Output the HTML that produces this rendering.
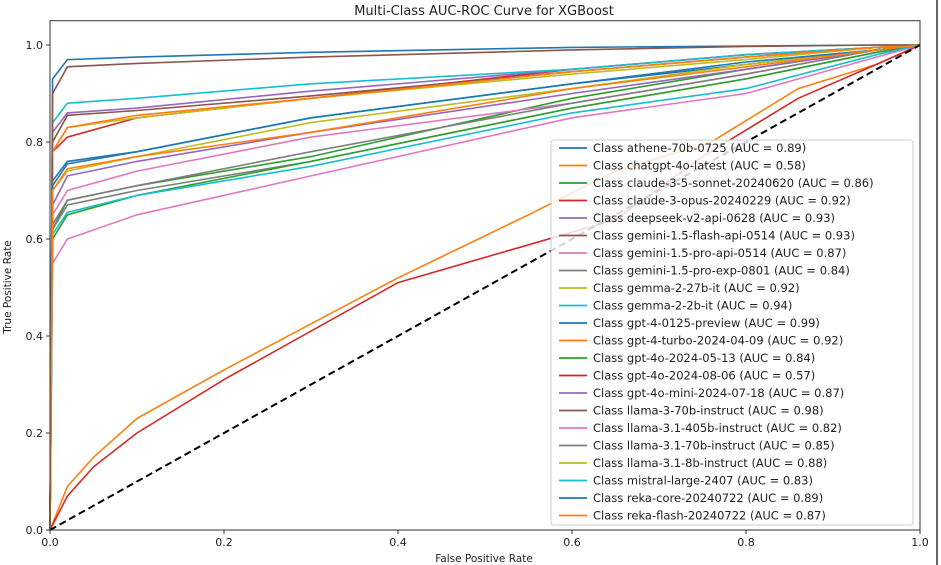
<!DOCTYPE html>
<html><head><meta charset="utf-8"><style>
html,body{margin:0;padding:0;background:#fff;}
svg{display:block;font-family:"DejaVu Sans","Liberation Sans",sans-serif;}
</style></head><body>
<svg id="chart" width="941" height="565" viewBox="0 0 941 565" xmlns="http://www.w3.org/2000/svg">
<rect x="0" y="0" width="941" height="565" fill="#fff"/>
<text x="484" y="15" text-anchor="middle" font-size="13" fill="#222">Multi-Class AUC-ROC Curve for XGBoost</text>
<g id="grid"></g>
<g id="curves"></g>
<rect x="50" y="20.7" width="870" height="509.3" fill="none" stroke="#333" stroke-width="1"/>
<line x1="937" y1="0" x2="937" y2="565" stroke="#333" stroke-width="1.5"/>
<g id="ticks"></g>
<text x="484" y="562" text-anchor="middle" font-size="10.5" fill="#222">False Positive Rate</text>
<text transform="translate(11,287) rotate(-90)" text-anchor="middle" font-size="10.5" fill="#222">True Positive Rate</text>
<g id="legend"></g>
</svg>
<script>
const NS="http://www.w3.org/2000/svg";
const classNames=["athene-70b-0725","chatgpt-4o-latest","claude-3-5-sonnet-20240620","claude-3-opus-20240229","deepseek-v2-api-0628","gemini-1.5-flash-api-0514","gemini-1.5-pro-api-0514","gemini-1.5-pro-exp-0801","gemma-2-27b-it","gemma-2-2b-it","gpt-4-0125-preview","gpt-4-turbo-2024-04-09","gpt-4o-2024-05-13","gpt-4o-2024-08-06","gpt-4o-mini-2024-07-18","llama-3-70b-instruct","llama-3.1-405b-instruct","llama-3.1-70b-instruct","llama-3.1-8b-instruct","mistral-large-2407","reka-core-20240722","reka-flash-20240722"];
const aucValues=[0.89,0.58,0.86,0.92,0.93,0.93,0.87,0.84,0.92,0.94,0.99,0.92,0.84,0.57,0.87,0.98,0.82,0.85,0.88,0.83,0.89,0.87];
const fprGrid=[0,0.003,0.02,0.1,0.3,0.6,0.8,0.95,1];
const tprAthene=[0,0.72,0.76,0.78,0.85,0.92,0.96,0.99,1];
const tprSonnet=[0,0.62,0.68,0.71,0.77,0.89,0.95,0.99,1];
const tprOpus=[0,0.78,0.81,0.85,0.89,0.95,0.98,0.995,1];
const tprDeepseek=[0,0.82,0.86,0.87,0.905,0.95,0.98,0.995,1];
const tprGemFlash=[0,0.80,0.855,0.865,0.895,0.945,0.975,0.995,1];
const tprGemProApi=[0,0.65,0.70,0.74,0.81,0.88,0.94,0.99,1];
const tprGemProExp=[0,0.62,0.67,0.70,0.76,0.87,0.93,0.985,1];
const tprGemma27=[0,0.78,0.83,0.85,0.89,0.94,0.97,0.995,1];
const tprGemma2=[0,0.84,0.88,0.89,0.92,0.95,0.98,0.995,1];
const tprGpt4=[0,0.93,0.97,0.975,0.985,0.995,0.998,1,1];
const tprGpt4Turbo=[0,0.78,0.83,0.855,0.89,0.945,0.975,0.995,1];
const tprGpt4o0513=[0,0.60,0.65,0.69,0.76,0.87,0.93,0.985,1];
const tprMini=[0,0.67,0.73,0.76,0.82,0.90,0.95,0.99,1];
const tprLlama3=[0,0.90,0.955,0.962,0.975,0.99,0.997,1,1];
const tpr405=[0,0.55,0.60,0.65,0.73,0.85,0.90,0.975,1];
const tpr70=[0,0.63,0.68,0.71,0.78,0.88,0.94,0.99,1];
const tpr8=[0,0.70,0.74,0.77,0.84,0.91,0.96,0.99,1];
const tprMistral=[0,0.61,0.655,0.69,0.75,0.86,0.91,0.98,1];
const tprRekaCore=[0,0.71,0.755,0.78,0.85,0.92,0.965,0.99,1];
const tprRekaFlash=[0,0.70,0.745,0.77,0.82,0.91,0.955,0.99,1];
const fprChatgpt=[0,0.02,0.05,0.1,0.2,0.4,0.55,0.65,0.76,0.86,0.95,1];
const tprChatgpt=[0,0.09,0.15,0.23,0.33,0.52,0.65,0.74,0.80,0.91,0.96,1];
const fprGpt4o0806=[0,0.02,0.05,0.1,0.2,0.4,0.65,0.75,0.86,0.95,1];
const tprGpt4o0806=[0,0.07,0.13,0.2,0.31,0.51,0.64,0.77,0.89,0.96,1];
const xTicks=[0,0.2,0.4,0.6,0.8,1.0];
const yTicks=[0,0.2,0.4,0.6,0.8,1.0];
const colors=["#1f77b4","#ff7f0e","#2ca02c","#d62728","#9467bd","#8c564b","#e377c2","#7f7f7f","#bcbd22","#17becf"];
const X=v=>50+v*870, Y=v=>530-v*485;
const series=[
 [fprGrid,tprAthene],[fprChatgpt,tprChatgpt],[fprGrid,tprSonnet],[fprGrid,tprOpus],[fprGrid,tprDeepseek],
 [fprGrid,tprGemFlash],[fprGrid,tprGemProApi],[fprGrid,tprGemProExp],[fprGrid,tprGemma27],[fprGrid,tprGemma2],
 [fprGrid,tprGpt4],[fprGrid,tprGpt4Turbo],[fprGrid,tprGpt4o0513],[fprGpt4o0806,tprGpt4o0806],[fprGrid,tprMini],
 [fprGrid,tprLlama3],[fprGrid,tpr405],[fprGrid,tpr70],[fprGrid,tpr8],[fprGrid,tprMistral],[fprGrid,tprRekaCore],[fprGrid,tprRekaFlash]];
const cg=document.getElementById('curves');
series.forEach((s,i)=>{
 const p=document.createElementNS(NS,'polyline');
 p.setAttribute('points',s[0].map((f,j)=>X(f).toFixed(1)+','+Y(s[1][j]).toFixed(1)).join(' '));
 p.setAttribute('fill','none');p.setAttribute('stroke',colors[i%10]);p.setAttribute('stroke-width','1.6');
 
 
 cg.appendChild(p);
});
const d=document.createElementNS(NS,'line');
d.setAttribute('x1',X(0));d.setAttribute('y1',Y(0));d.setAttribute('x2',X(1));d.setAttribute('y2',Y(1));
d.setAttribute('stroke','#000');d.setAttribute('stroke-width','2');d.setAttribute('stroke-dasharray','7,4');


cg.appendChild(d);
const tg=document.getElementById('ticks');
xTicks.forEach(t=>{
 const l=document.createElementNS(NS,'line');l.setAttribute('x1',X(t));l.setAttribute('x2',X(t));l.setAttribute('y1',530);l.setAttribute('y2',534);l.setAttribute('stroke','#333');
 
 
 tg.appendChild(l);
 const tx=document.createElementNS(NS,'text');tx.setAttribute('x',X(t));tx.setAttribute('y',546);tx.setAttribute('text-anchor','middle');tx.setAttribute('font-size','11');tx.setAttribute('fill','#222');tx.textContent=t.toFixed(1);
 
 
 tg.appendChild(tx);
});
yTicks.forEach(t=>{
 const l=document.createElementNS(NS,'line');l.setAttribute('x1',46);l.setAttribute('x2',50);l.setAttribute('y1',Y(t));l.setAttribute('y2',Y(t));l.setAttribute('stroke','#333');
 
 
 tg.appendChild(l);
 const tx=document.createElementNS(NS,'text');tx.setAttribute('x',43);tx.setAttribute('y',Y(t)+4);tx.setAttribute('text-anchor','end');tx.setAttribute('font-size','11');tx.setAttribute('fill','#222');tx.textContent=t.toFixed(1);
 
 
 tg.appendChild(tx);
});
const lg=document.getElementById('legend');
const box=document.createElementNS(NS,'rect');
box.setAttribute('x',551);box.setAttribute('y',140);box.setAttribute('width',362);box.setAttribute('height',385);box.setAttribute('rx',3);
box.setAttribute('fill','rgba(255,255,255,0.82)');box.setAttribute('stroke','#ccc');


lg.appendChild(box);
classNames.forEach((n,i)=>{
 const y=148+i*17.5;
 const l=document.createElementNS(NS,'line');l.setAttribute('x1',559);l.setAttribute('x2',587);l.setAttribute('y1',y);l.setAttribute('y2',y);l.setAttribute('stroke',colors[i%10]);l.setAttribute('stroke-width','1.8');
 
 
 lg.appendChild(l);
 const tx=document.createElementNS(NS,'text');tx.setAttribute('x',593);tx.setAttribute('y',y+4);tx.setAttribute('font-size','11.5');tx.setAttribute('fill','#222');
 tx.textContent='Class '+n+' (AUC = '+aucValues[i].toFixed(2)+')';
 
 
 lg.appendChild(tx);
});
</script>
</body></html>
